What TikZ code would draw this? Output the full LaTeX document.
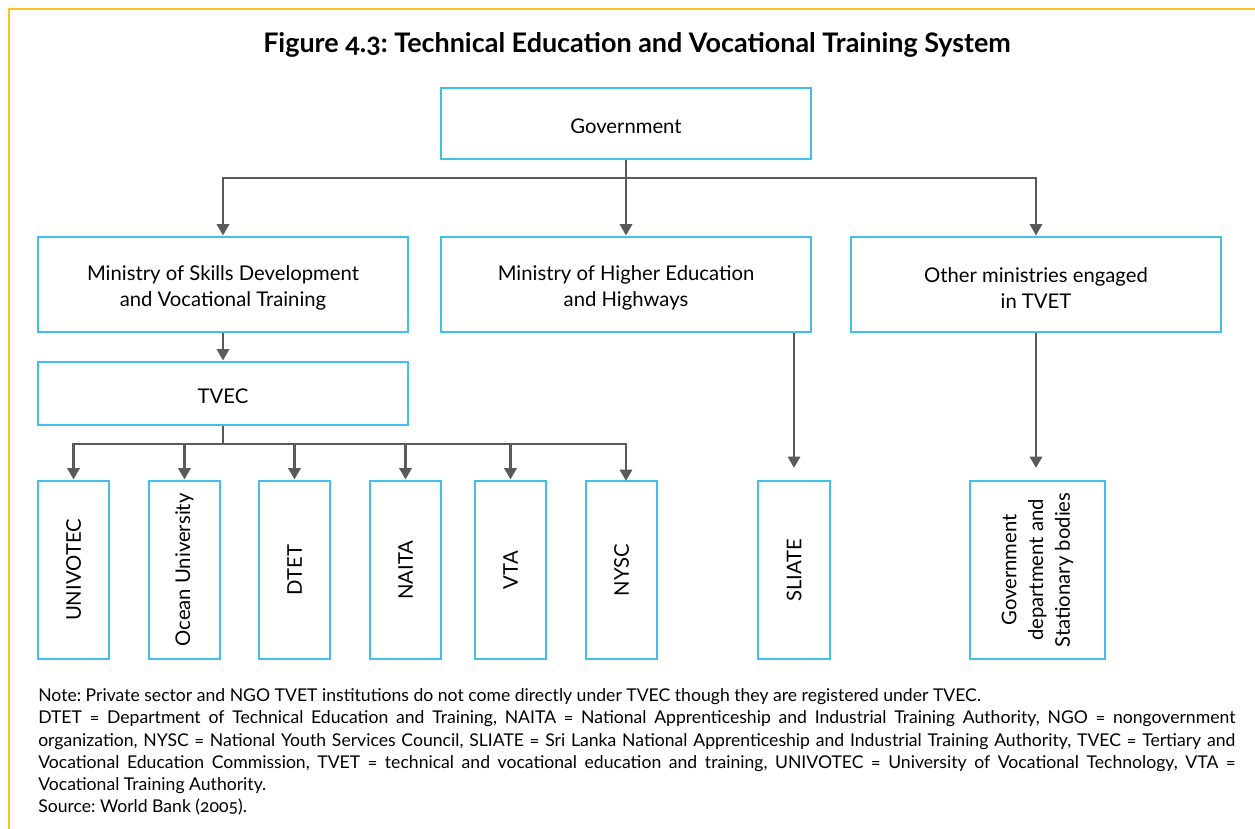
\documentclass[tikz,border=0pt]{standalone}
\usepackage{fontspec}
\setmainfont{Lato}[Numbers=OldStyle]
\usetikzlibrary{arrows.meta}
\definecolor{boxblue}{HTML}{42C0EC}
\definecolor{linegray}{HTML}{5A5A5C}
\definecolor{frameyellow}{HTML}{FBC02D}
\tikzset{
  box/.style={draw=boxblue, line width=2.2pt, fill=white, inner sep=0pt, align=center,
    font=\fontsize{15.2pt}{19.5pt}\selectfont},
  blabel/.style={align=center, font=\fontsize{15.2pt}{19.5pt}\selectfont},
  vlabel/.style={rotate=90, align=center, font=\fontsize{15.2pt}{20pt}\selectfont},
  conn/.style={draw=linegray, line width=2.2pt},
  arr/.style={conn, -{Triangle[length=8.5pt,width=9pt]}},
}
\frenchspacing
\begin{document}
\begin{tikzpicture}[x=0.75pt,y=-0.75pt]
\useasboundingbox (0,0) rectangle (1255,828);
\fill[white] (0,0) rectangle (1255,828);
\draw[frameyellow, line width=1.5pt] (9,830) -- (9,8.5) -- (1258,8.5);
\node[font=\bfseries\fontsize{20.2pt}{24pt}\selectfont] (title) at (637,45) {Figure 4.3: Technical Education and Vocational Training System};

\node[box, minimum width=370*0.75pt, minimum height=71*0.75pt] (gov) at (626,123.5) {};
\node[blabel] at (626,126) {Government};
\node[box, minimum width=370*0.75pt, minimum height=95*0.75pt] (msd) at (223,284.5) {};
\node[box, minimum width=370*0.75pt, minimum height=95*0.75pt] (mhe) at (626,284.5) {};
\node[box, minimum width=370*0.75pt, minimum height=95*0.75pt] (oth) at (1036,284.5) {};
\node[blabel] at (223,288) {Ministry of Skills Development\\and Vocational Training};
\node[blabel] at (626,288) {Ministry of Higher Education\\and Highways};
\node[blabel] at (1036,288) {Other ministries engaged\\in TVET};
\node[box, minimum width=370*0.75pt, minimum height=63*0.75pt] (tvec) at (223,393.5) {};
\node[blabel] at (223,396) {TVEC};

\node[box, minimum width=71*0.75pt, minimum height=178*0.75pt] (univ) at (73.5,570) {};
\node[vlabel] at (univ.center) {UNIVOTEC};
\node[box, minimum width=71*0.75pt, minimum height=178*0.75pt] (ocean) at (184.5,570) {};
\node[vlabel] at (ocean.center) {Ocean University};
\node[box, minimum width=71*0.75pt, minimum height=178*0.75pt] (dtet) at (294.5,570) {};
\node[vlabel] at (dtet.center) {DTET};
\node[box, minimum width=71*0.75pt, minimum height=178*0.75pt] (naita) at (405.5,570) {};
\node[vlabel] at (naita.center) {NAITA};
\node[box, minimum width=71*0.75pt, minimum height=178*0.75pt] (vta) at (510.5,570) {};
\node[vlabel] at (vta.center) {VTA};
\node[box, minimum width=71*0.75pt, minimum height=178*0.75pt] (nysc) at (621.5,570) {};
\node[vlabel] at (nysc.center) {NYSC};
\node[box, minimum width=72*0.75pt, minimum height=178*0.75pt] (sliate) at (794,570) {};
\node[vlabel] at (sliate.center) {SLIATE};
\node[box, minimum width=135*0.75pt, minimum height=178*0.75pt] (govd) at (1037.5,570) {};
\node[vlabel] at (govd.center) {Government\\department and\\Stationary bodies};

% connectors
\coordinate (gj) at (626,178);
\draw[conn] (gov.south) -- (gj);
\draw[arr] (gj) -| (msd.north);
\draw[arr] (gj) -- (mhe.north);
\draw[arr] (gj) -| (oth.north);
\draw[arr] (msd.south) -- (tvec.north);
\coordinate (tj) at (223,444);
\draw[conn] (tvec.south) -- (tj);
\draw[arr] (tj) -| (univ.north);
\draw[arr] (tj) -| (ocean.north);
\draw[arr] (tj) -| (dtet.north);
\draw[arr] (tj) -| (naita.north);
\draw[arr] (tj) -| (vta.north);
\coordinate (ny) at (626,481);
\draw[arr] (tj) -| (ny);
\coordinate (sl) at (794,468);
\draw[arr] (mhe.south -| sl) -- (sl);
\coordinate (gd) at (1036,468);
\draw[arr] (oth.south) -- (gd);

\node[anchor=north west, inner sep=0pt, text width=1197*0.75pt, align=justify,
  font=\fontsize{13.2pt}{16.65pt}\selectfont] (note) at (38,688.5)
{Note: Private sector and NGO TVET institutions do not come directly under TVEC though they are registered under TVEC.\\
DTET = Department of Technical Education and Training, NAITA = National Apprenticeship and Industrial Training Authority, NGO = nongovernment\linebreak
organization, NYSC = National Youth Services Council, SLIATE = Sri Lanka National Apprenticeship and Industrial Training Authority, TVEC = Tertiary and\linebreak
Vocational Education Commission, TVET = technical and vocational education and training, UNIVOTEC = University of Vocational Technology, VTA =\linebreak
Vocational Training Authority.\\
Source: World Bank (2005).};
\end{tikzpicture}
\end{document}
